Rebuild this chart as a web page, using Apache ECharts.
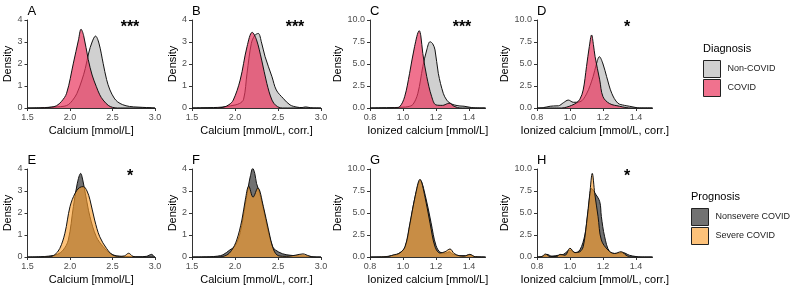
<!DOCTYPE html>
<html>
<head>
<meta charset="utf-8">
<script src="https://cdn.jsdelivr.net/npm/echarts@6/dist/echarts.min.js"></script>
<style>
  html, body { margin: 0; padding: 0; background: #fff; }
  #chart { width: 790px; height: 288px; }
</style>
</head>
<body>
<div id="chart"></div>
<script>
// density curves, [value, density]
const aNonCovid = [[1.5,0],[1.65,0.01],[1.75,0.03],[1.85,0.05],[1.93,0.08],[1.98,0.15],[2.03,0.35],[2.08,0.65],[2.14,1.27],[2.18,1.8],[2.22,2.5],[2.26,3.0],[2.3,3.27],[2.34,2.95],[2.39,2.03],[2.43,1.3],[2.47,0.82],[2.52,0.45],[2.56,0.28],[2.62,0.15],[2.7,0.07],[2.8,0.04],[2.9,0.02],[2.96,0.01],[3.0,0]]
const aCovid = [[1.5,0],[1.7,0.01],[1.78,0.04],[1.84,0.1],[1.9,0.3],[1.96,0.67],[2.04,2.04],[2.1,3.1],[2.13,3.58],[2.16,3.3],[2.215,2.2],[2.26,1.5],[2.31,0.97],[2.35,0.6],[2.39,0.36],[2.45,0.12],[2.5,0.03],[2.56,0],[3.0,0]]

const bNonCovid = [[1.5,0],[1.6,0.01],[1.75,0.02],[1.85,0.04],[1.95,0.1],[2.05,0.2],[2.1,0.4],[2.14,1.58],[2.19,2.94],[2.23,3.3],[2.27,3.39],[2.31,2.95],[2.35,2.33],[2.43,1.42],[2.48,0.82],[2.56,0.44],[2.64,0.14],[2.72,0.04],[2.78,0.02],[2.82,0.05],[2.88,0.01],[2.95,0],[3.0,0]]
const bCovid = [[1.5,0],[1.75,0],[1.86,0.03],[1.93,0.15],[1.98,0.36],[2.06,1.27],[2.14,2.79],[2.2,3.44],[2.25,3.1],[2.31,2.18],[2.37,1.12],[2.43,0.36],[2.48,0.1],[2.55,0],[3.0,0]]

const cNonCovid = [[0.8,0],[0.85,0.02],[0.95,0.05],[1.0,0.1],[1.03,0.15],[1.06,0.4],[1.09,1.67],[1.12,4.7],[1.144,6.6],[1.164,7.53],[1.18,7.3],[1.194,6.6],[1.214,3.94],[1.244,1.67],[1.265,0.9],[1.285,0.55],[1.31,0.35],[1.345,0.23],[1.37,0.2],[1.4,0.1],[1.43,0.02],[1.5,0]]
const cCovid = [[0.8,0],[0.9,0],[0.95,0.02],[0.98,0.15],[1.01,1.28],[1.04,3.94],[1.07,6.97],[1.099,8.78],[1.108,8.2],[1.12,6.2],[1.144,3.56],[1.174,1.28],[1.2,0.35],[1.24,0.3],[1.27,0.5],[1.285,0.55],[1.3,0.3],[1.33,0.05],[1.36,0],[1.5,0]]

const dNonCovid = [[0.8,0],[0.84,0.05],[0.88,0.2],[0.9,0.23],[0.93,0.25],[0.96,0.6],[0.99,0.9],[1.02,0.65],[1.06,0.7],[1.1,1.6],[1.14,3.56],[1.16,5.0],[1.178,5.83],[1.2,5.0],[1.222,3.56],[1.253,1.67],[1.29,0.55],[1.33,0.3],[1.36,0.2],[1.4,0.05],[1.42,0],[1.5,0]]
const dCovid = [[0.8,0],[0.95,0],[0.98,0.1],[1.01,0.3],[1.04,0.6],[1.06,1.0],[1.08,2.05],[1.1,4.7],[1.117,6.97],[1.131,8.3],[1.142,7.2],[1.152,5.83],[1.18,3.2],[1.2,1.28],[1.24,0.5],[1.3,0.2],[1.34,0.05],[1.37,0],[1.5,0]]

const eNonsevere = [[1.5,0],[1.65,0.01],[1.75,0.04],[1.85,0.12],[1.92,0.32],[1.98,0.77],[2.04,2.29],[2.086,3.35],[2.126,3.8],[2.15,3.5],[2.18,2.9],[2.235,1.83],[2.31,0.92],[2.39,0.47],[2.47,0.17],[2.55,0.05],[2.65,0.02],[2.8,0.01],[2.9,0.03],[2.96,0.12],[2.99,0.02],[3.0,0]]
const eSevere = [[1.5,0],[1.75,0.01],[1.82,0.1],[1.88,0.39],[1.94,1.08],[2.0,2.29],[2.06,2.9],[2.11,3.15],[2.157,3.2],[2.2,3.0],[2.235,2.6],[2.29,1.68],[2.35,0.92],[2.43,0.39],[2.5,0.1],[2.58,0.03],[2.64,0.05],[2.69,0.17],[2.74,0.03],[2.8,0],[3.0,0]]

const fNonsevere = [[1.5,0],[1.7,0.01],[1.8,0.04],[1.86,0.1],[1.94,0.32],[2.0,0.5],[2.06,1.1],[2.12,2.4],[2.155,3.2],[2.18,3.7],[2.206,4.03],[2.23,3.8],[2.25,3.35],[2.28,3.0],[2.33,2.2],[2.39,1.1],[2.44,0.45],[2.47,0.32],[2.55,0.15],[2.64,0.08],[2.75,0.05],[2.82,0.05],[2.9,0.01],[3.0,0]]
const fSevere = [[1.5,0],[1.8,0],[1.9,0.08],[1.96,0.3],[2.02,0.77],[2.08,1.68],[2.12,2.6],[2.16,3.22],[2.21,2.72],[2.265,3.14],[2.33,2.29],[2.39,1.23],[2.45,0.32],[2.51,0.05],[2.6,0.03],[2.7,0.08],[2.79,0.14],[2.86,0.05],[2.92,0],[3.0,0]]

const gNonsevere = [[0.8,0],[0.88,0.02],[0.93,0.15],[0.97,0.35],[1.012,1.1],[1.042,3.7],[1.073,6.8],[1.105,8.7],[1.135,7.0],[1.17,3.9],[1.2,1.3],[1.23,0.5],[1.26,0.45],[1.28,0.6],[1.3,0.35],[1.34,0.15],[1.38,0.15],[1.405,0.25],[1.43,0.05],[1.5,0]]
const gSevere = [[0.8,0],[0.9,0.02],[0.94,0.23],[0.98,0.45],[1.012,1.17],[1.042,3.83],[1.073,6.85],[1.103,8.83],[1.133,6.85],[1.164,3.83],[1.194,1.17],[1.224,0.45],[1.255,0.6],[1.285,0.91],[1.31,0.4],[1.34,0.15],[1.37,0.1],[1.405,0.3],[1.44,0.02],[1.5,0]]

const hNonsevere = [[0.8,0],[0.84,0.1],[0.86,0.3],[0.89,0.1],[0.93,0.2],[0.96,0.3],[1.0,0.8],[1.03,0.5],[1.06,0.8],[1.09,2.5],[1.11,5.2],[1.131,7.8],[1.15,7.3],[1.18,6.3],[1.19,4.6],[1.21,2.3],[1.24,0.6],[1.28,0.4],[1.32,0.5],[1.36,0.2],[1.4,0.05],[1.43,0],[1.5,0]]
const hSevere = [[0.8,0],[0.83,0.05],[0.85,0.34],[0.88,0.05],[0.92,0.05],[0.94,0.3],[0.97,0.2],[1.0,1.0],[1.03,0.5],[1.06,0.6],[1.08,1.17],[1.1,3.83],[1.12,7.2],[1.135,9.5],[1.15,7.2],[1.17,4.6],[1.19,1.93],[1.23,0.8],[1.27,0.4],[1.31,0.6],[1.34,0.2],[1.37,0],[1.5,0]]

const panelLetters = ['A', 'B', 'C', 'D', 'E', 'F', 'G', 'H']
const panelStars = ['***', '***', '***', '*', '*', '', '', '*']
const xNames = ['Calcium [mmol/L]', 'Calcium [mmol/L, corr.]', 'Ionized calcium [mmol/L]', 'Ionized calcium [mmol/L, corr.]']
const diagnosisNames = ['Non-COVID', 'COVID']
const prognosisNames = ['Nonsevere COVID', 'Severe COVID']

const FONT = '"Liberation Sans", Arial, sans-serif'
const colors = {
  'Non-COVID': 'rgba(188,188,188,0.7)',
  'COVID': 'rgba(233,54,94,0.7)',
  'Nonsevere COVID': 'rgba(65,65,65,0.75)',
  'Severe COVID': 'rgba(252,159,44,0.63)'
}

// panel geometry (px)
const cols = [
  { left: 27.5, width: 127.5, ion: false, nameGap: 14, starX: 130 },
  { left: 192, width: 129, ion: false, nameGap: 14, starX: 295 },
  { left: 370, width: 115.5, ion: true, nameGap: 24, starX: 462 },
  { left: 537, width: 115.5, ion: true, nameGap: 24, starX: 627 }
]
const rows = [
  { top: 20, height: 88, names: diagnosisNames, data: [[aNonCovid, aCovid], [bNonCovid, bCovid], [cNonCovid, cCovid], [dNonCovid, dCovid]] },
  { top: 169, height: 88, names: prognosisNames, data: [[eNonsevere, eSevere], [fNonsevere, fSevere], [gNonsevere, gSevere], [hNonsevere, hSevere]] }
]

const grid = [], xAxis = [], yAxis = [], series = [], graphic = []
rows.forEach((row, r) => {
  cols.forEach((col, c) => {
    const i = r * 4 + c
    grid.push({ left: col.left, top: row.top, width: col.width, height: row.height })
    xAxis.push({
      gridIndex: i, type: 'value',
      min: col.ion ? 0.8 : 1.5, max: col.ion ? 1.5 : 3.0, interval: col.ion ? 0.2 : 0.5,
      name: xNames[c], nameLocation: 'middle', nameGap: 17,
      nameTextStyle: { fontFamily: FONT, fontSize: 11, color: '#000' },
      axisLine: { lineStyle: { color: '#333', width: 1 } },
      axisTick: { length: 3, lineStyle: { color: '#333' } },
      axisLabel: {
        fontFamily: FONT, fontSize: 9, color: '#4d4d4d', margin: 5,
        showMaxLabel: !col.ion, formatter: v => v.toFixed(1)
      },
      splitLine: { show: false }
    })
    yAxis.push({
      gridIndex: i, type: 'value',
      min: 0, max: col.ion ? 10 : 4, interval: col.ion ? 2.5 : 1,
      name: 'Density', nameLocation: 'middle', nameGap: col.nameGap, nameRotate: 90,
      nameTextStyle: { fontFamily: FONT, fontSize: 11, color: '#000' },
      axisLine: { show: true, lineStyle: { color: '#333', width: 1 } },
      axisTick: { show: true, length: 3, lineStyle: { color: '#333' } },
      axisLabel: {
        fontFamily: FONT, fontSize: 9, color: '#4d4d4d', margin: 5,
        formatter: v => col.ion ? v.toFixed(1) : String(v)
      },
      splitLine: { show: false }
    })
    row.names.forEach((nm, k) => {
      series.push({
        name: nm, type: 'line', xAxisIndex: i, yAxisIndex: i,
        data: row.data[c][k], smooth: 0.35, showSymbol: false, silent: true,
        lineStyle: { color: '#111', width: 1 },
        itemStyle: { color: colors[nm] },
        areaStyle: { color: colors[nm], opacity: 1 },
        z: 2 + k
      })
    })
    graphic.push({
      type: 'text', left: col.left, top: row.top - 15,
      style: { text: panelLetters[i], font: '13px ' + FONT, fill: '#000' }
    })
    if (panelStars[i]) {
      graphic.push({
        type: 'text', x: col.starX, y: row.top + 8,
        style: { text: panelStars[i], font: 'bold 16px ' + FONT, fill: '#000', align: 'center', verticalAlign: 'middle' }
      })
    }
  })
})

graphic.push(
  { type: 'text', x: 703, y: 49, style: { text: 'Diagnosis', font: '11px ' + FONT, fill: '#000', verticalAlign: 'middle' } },
  { type: 'text', x: 691, y: 197, style: { text: 'Prognosis', font: '11px ' + FONT, fill: '#000', verticalAlign: 'middle' } }
)

const legendItem = nm => ({
  name: nm, icon: 'rect',
  itemStyle: { color: colors[nm], borderColor: '#222', borderWidth: 1 }
})

const chart = echarts.init(document.getElementById('chart'), null, { renderer: 'canvas' })
chart.setOption({
  animation: false,
  backgroundColor: '#fff',
  grid, xAxis, yAxis, series, graphic,
  legend: [
    {
      left: 703, top: 60, orient: 'vertical', padding: 0, itemGap: 1,
      itemWidth: 17, itemHeight: 17, selectedMode: false,
      textStyle: { fontFamily: FONT, fontSize: 9, color: '#222', padding: [0, 0, 0, 2] },
      data: diagnosisNames.map(legendItem)
    },
    {
      left: 691, top: 208, orient: 'vertical', padding: 0, itemGap: 1,
      itemWidth: 17, itemHeight: 17, selectedMode: false,
      textStyle: { fontFamily: FONT, fontSize: 9, color: '#222', padding: [0, 0, 0, 2] },
      data: prognosisNames.map(legendItem)
    }
  ]
})
</script>
</body>
</html>
